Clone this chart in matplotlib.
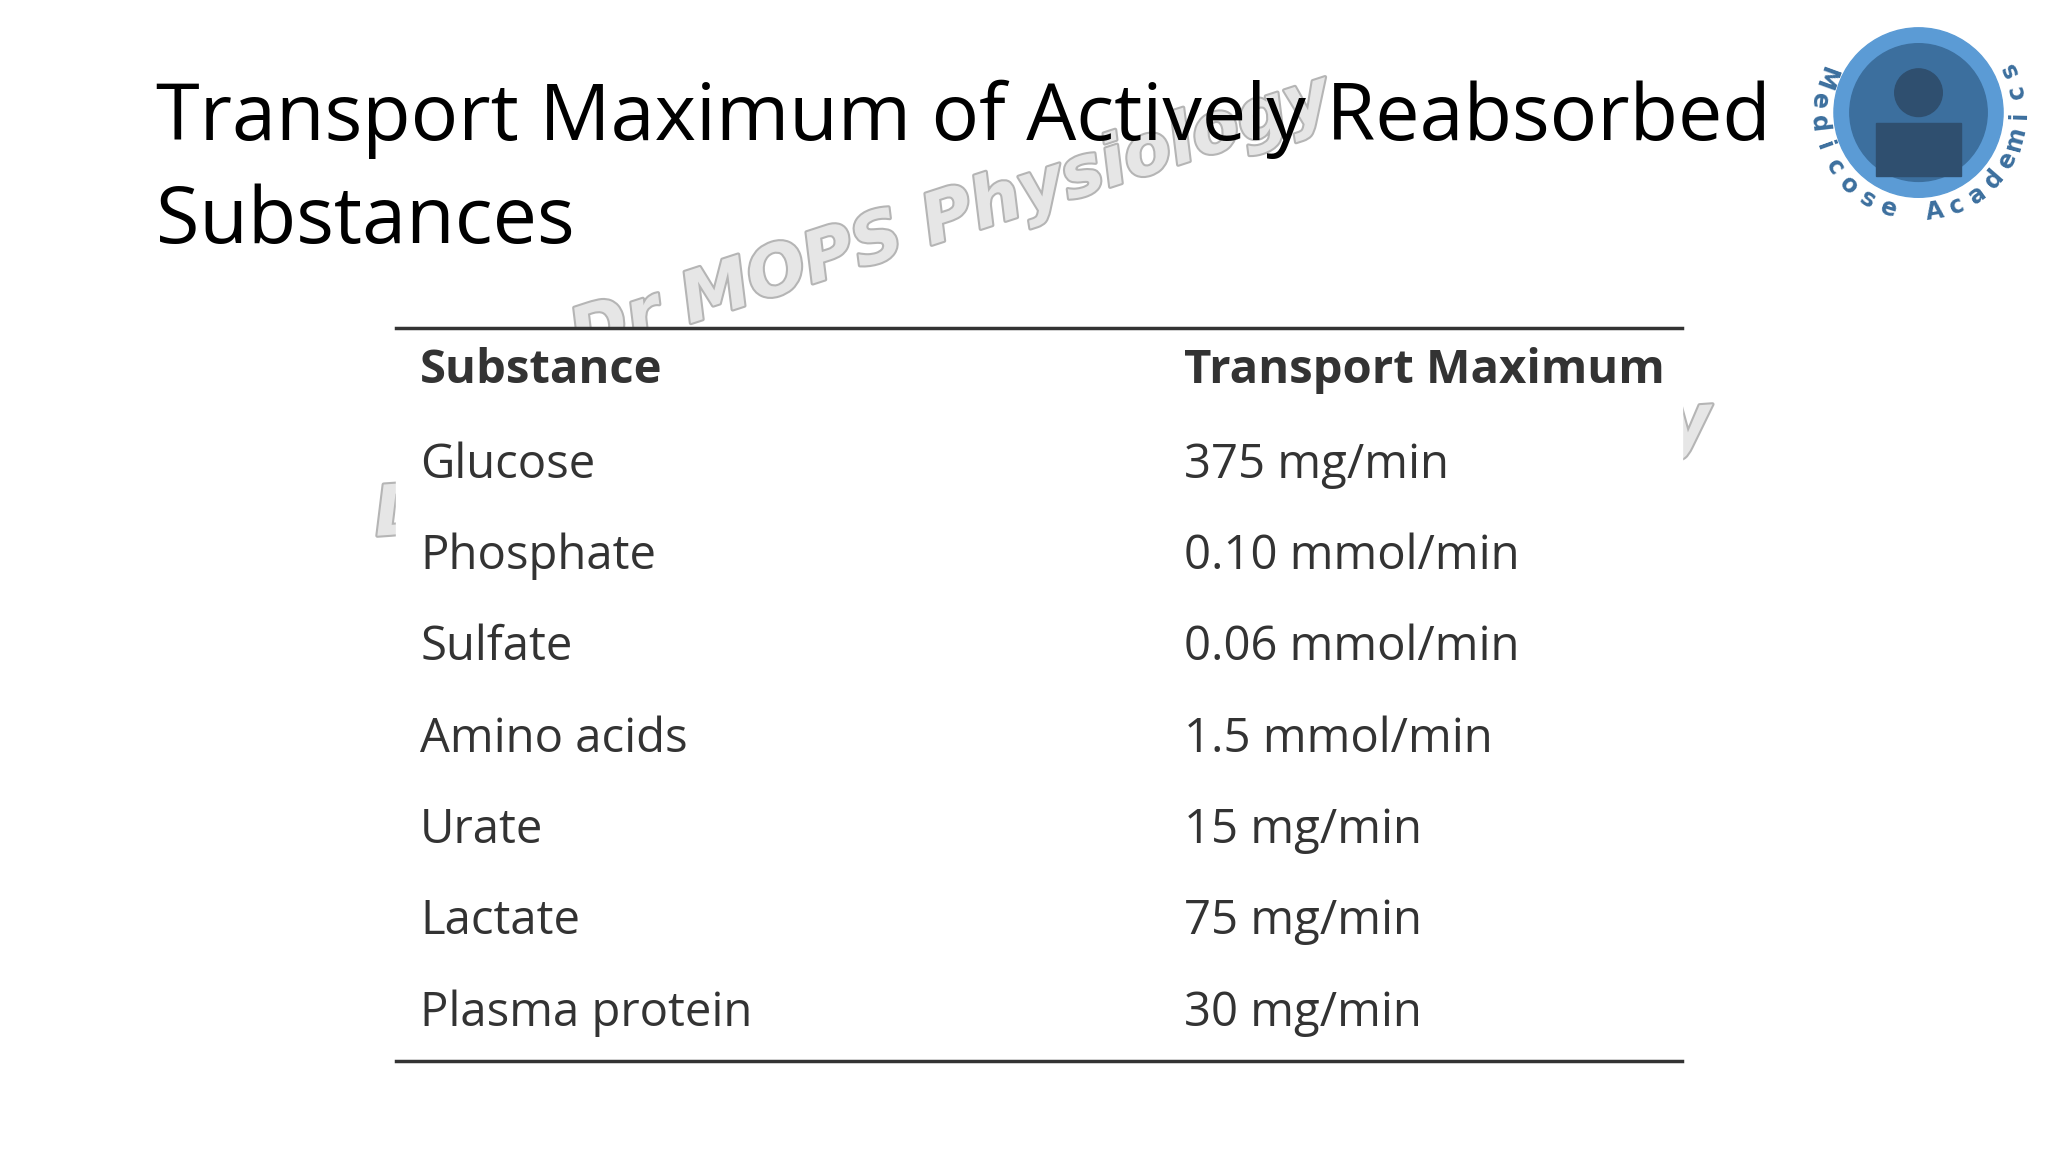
import matplotlib
matplotlib.use("Agg")
import matplotlib.pyplot as plt
import matplotlib.patheffects as pe
from matplotlib.patches import Circle, Rectangle
import numpy as np

title_lines = ["Transport Maximum of Actively Reabsorbed", "Substances"]
header = ["Substance", "Transport Maximum"]
substances = ["Glucose", "Phosphate", "Sulfate", "Amino acids", "Urate", "Lactate", "Plasma protein"]
tmax = ["375 mg/min", "0.10 mmol/min", "0.06 mmol/min", "1.5 mmol/min", "15 mg/min", "75 mg/min", "30 mg/min"]

W, H = 1550, 870
fig = plt.figure(figsize=(20.48, 11.52), dpi=100)
ax = fig.add_axes([0, 0, 1, 1])
ax.set_xlim(0, W); ax.set_ylim(H, 0); ax.axis("off")

wm = dict(color="#e6e6e6", fontsize=50, fontweight="bold", family="DejaVu Sans",
          path_effects=[pe.withStroke(linewidth=3, foreground="#b5b5b5")], zorder=1,
          ha="center", va="center", style="italic")
ax.text(720, 165, "Dr MOPS Physiology", rotation=18, **wm)
ax.text(790, 355, "Dr MOPS Physiology     Physiology", rotation=4, **wm)
ax.add_patch(Rectangle((300, 248), 973, 553, color="white", zorder=2))

ax.text(118, 90, title_lines[0], fontsize=57, family="Open Sans", va="center", zorder=5)
ax.text(118, 168, title_lines[1], fontsize=57, family="Open Sans", va="center", zorder=5)

ax.plot([300, 1273], [248, 248], color="#333333", lw=2.5, zorder=5)
ax.plot([300, 1273], [801, 801], color="#333333", lw=2.5, zorder=5)
fs = 34
ax.text(318, 280, header[0], fontsize=fs, fontweight="bold", family="Open Sans", color="#333333", va="center", zorder=5)
ax.text(896, 280, header[1], fontsize=fs, fontweight="bold", family="Open Sans", color="#333333", va="center", zorder=5)
ys = [351, 420, 489, 558, 627, 696, 765]
for y, s, t in zip(ys, substances, tmax):
    ax.text(318, y, s, fontsize=fs, family="Open Sans", color="#333333", va="center", zorder=5)
    ax.text(896, y, t, fontsize=fs, family="Open Sans", color="#333333", va="center", zorder=5)

# logo
cx, cy = 1452, 85
ax.add_patch(Circle((cx, cy), 64, color="#5b9bd5", zorder=5))
ax.add_patch(Circle((cx, cy), 52, color="#3c6f9e", zorder=6))
ax.add_patch(Circle((cx, cy - 15), 18, color="#2f4f6f", zorder=7))
ax.add_patch(Rectangle((cx - 32, cy + 8), 64, 40, color="#2f4f6f", zorder=7))
label = "Medicose Academics"
angs = np.linspace(200, -25, len(label))
for ch, a in zip(label, angs):
    r = 76
    x = cx + r * np.cos(np.radians(a))
    y = cy + r * np.sin(np.radians(a))
    ax.text(x, y, ch, fontsize=17, fontweight="bold", color="#3c6f9e", ha="center", va="center",
            rotation=90 - a, zorder=8)
fig.savefig("out.png", dpi=100, facecolor="white")
